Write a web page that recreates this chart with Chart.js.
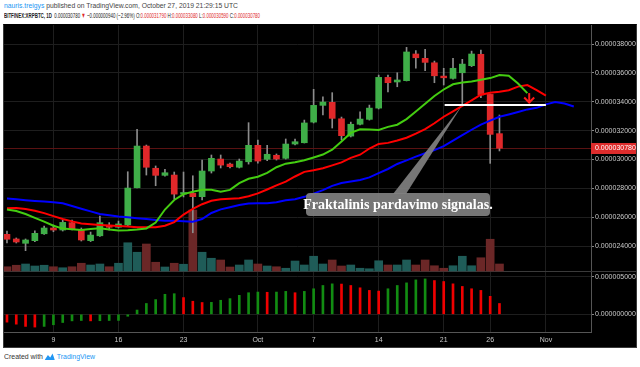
<!DOCTYPE html>
<html>
<head>
<meta charset="utf-8">
<script src="https://cdn.jsdelivr.net/npm/chart.js@4.4.1/dist/chart.umd.min.js"></script>
<style>
  html, body { margin: 0; padding: 0; width: 640px; height: 367px; overflow: hidden; background: #fff;
    font-family: "Liberation Sans", Arial, sans-serif; }
  .line { position: absolute; left: 4px; white-space: nowrap; transform-origin: left center; display: inline-block; }
  #h1 { top: 1px; font-size: 7.5px; color: #444; }
  #h2 { top: 11px; font-size: 7.5px; color: #222; }
  #h2 .r { color: #e0282a; }
  #foot { top: 352px; font-size: 7.5px; color: #333; }
  #foot .tv { color: #2196f3; }
  .blue { color: #2196f3; }
  #wrap { position: absolute; left: 3px; top: 24px; width: 634px; height: 324px; box-sizing: border-box;
    border: 1px solid #3a3a3a; border-top-color: #000; background: #000; }
  canvas { display: block; }
</style>
</head>
<body>
<div id="h1" class="line"><span class="blue">nauris.treigys</span> published on TradingView.com, October 27, 2019 21:29:15 UTC</div>
<div id="h2" class="line"><b>BITFINEX:XRPBTC, 1D</b>&nbsp; 0.000030780 <span class="r">&#9660;</span> &minus;0.000000940 (&minus;2.96%) O:<span class="r">0.000031790</span> H:<span class="r">0.000033080</span> L:<span class="r">0.000030590</span> C:<span class="r">0.000030780</span></div>
<div id="wrap"><canvas id="c" width="632" height="322"></canvas></div>
<div id="foot" class="line">Created with <svg width="11" height="7" viewBox="0 0 11 7" style="vertical-align:-1px"><path d="M0 7 L3.5 2 L6 4.5 L8.5 0.5 L11 7 Z" fill="#2196f3"/></svg> <span class="tv">TradingView</span></div>

<script>
// daily candles, 4 Sep .. 27 Oct 2019, prices in satoshi (1e-8 BTC)
const opens  = [2481,2449,2419,2437,2485,2525,2511,2562,2511,2437,2471,2544,2530,2546,2804,3093,2939,2890,2892,2760,
                2765,2742,2920,3003,2968,2946,2984,3098,3001,3029,3008,3107,3116,3259,3375,3396,3282,3162,3244,3278,
                3356,3569,3537,3546,3731,3701,3670,3578,3562,3601,3650,3729,3451,3179];
const highs  = [2504,2456,2449,2506,2539,2546,2580,2580,2525,2497,2608,2562,2573,2915,3209,3100,2955,2932,2913,2913,
                2887,2996,3031,3031,2975,3003,3255,3135,3098,3038,3142,3142,3273,3486,3435,3463,3294,3259,3331,3377,
                3585,3585,3601,3777,3754,3763,3682,3632,3701,3694,3751,3758,3453,3308];
const lows   = [2421,2421,2368,2431,2480,2499,2504,2511,2435,2431,2466,2511,2525,2539,2802,2892,2818,2885,2726,2740,
                2492,2719,2906,2941,2941,2941,2968,2975,2991,2996,3003,3100,3114,3253,3308,3218,3135,3156,3239,3273,
                3350,3469,3504,3544,3632,3615,3532,3516,3557,3377,3644,3428,2973,3059];
const closes = [2447,2428,2442,2488,2525,2511,2564,2516,2442,2476,2562,2530,2553,2802,3093,2946,2890,2908,2760,2771,
                2742,2920,3008,2961,2950,2989,3098,2989,3036,3003,3107,3123,3253,3375,3398,3285,3165,3244,3280,3356,
                3569,3532,3551,3745,3705,3673,3580,3566,3632,3661,3731,3447,3174,3078];
const volumes = [17,23,28,20,23,17,13,17,31,24,28,17,31,113,75,108,35,16,31,27,
                 244,75,51,44,16,24,44,28,20,17,11,40,24,59,28,44,20,24,11,9,
                 41,24,24,44,24,44,21,11,21,59,21,53,127,28];
// Alligator lines (already shifted forward: jaw +8, teeth +5, lips +3)
const jaw   = [2729,2724,2718,2713,2708,2704,2696,2677,2659,2640,2622,2613,2605,2599,2593,2587,2580,2576,2575,2572,
               2569,2587,2629,2654,2669,2684,2695,2696,2696,2704,2717,2725,2741,2763,2788,2817,2837,2847,2858,2876,
               2905,2934,2969,2994,3020,3043,3065,3093,3131,3169,3206,3242,3269,3296,3312,3329,3347,3358,3382,3398,
               3388,3367];
const teeth = [2662,2663,2657,2645,2628,2607,2587,2571,2557,2551,2546,2542,2539,2535,2531,2530,2530,2541,2566,2618,
               2657,2690,2714,2724,2727,2731,2745,2765,2792,2820,2846,2882,2914,2925,2939,2959,2980,3011,3033,3076,
               3108,3115,3132,3151,3179,3211,3251,3296,3334,3372,3409,3449,3463,3469,3480,3505,3516,3481,3442];
const lips  = [2654,2643,2622,2595,2569,2541,2521,2516,2512,2518,2523,2515,2508,2510,2514,2522,2563,2653,2719,2760,
               2776,2790,2790,2776,2789,2836,2866,2880,2907,2946,2971,2981,2995,3014,3034,3068,3124,3184,3209,3207,
               3205,3226,3241,3280,3332,3386,3440,3485,3521,3534,3541,3552,3564,3585,3581,3526,3460];
// oscillator histogram, satoshi
const osc = [-105,-132,-162,-171,-162,-140,-110,-88,-83,-88,-86,-83,-82,-26,57,145,197,268,276,224,
             175,158,160,188,210,254,289,298,295,298,307,289,307,342,386,408,405,386,355,320,
             311,342,386,421,461,474,452,439,408,373,342,320,241,145];

const fractalLevel = 3377;
const fractalFrom = 47.1, fractalTo = 58;
const arrowAt = 56.2, arrowTop = 3460, arrowTip = 3395;

const priceTicks = [2400, 2600, 2800, 3000, 3200, 3400, 3600, 3800];
const oscTicks = [0, 500];
const dateTicks = [5, 12, 19, 27, 33, 40, 47, 52, 58];
const dateLabels = ['9', '16', '23', 'Oct', '7', '14', '21', '26', 'Nov'];
const calloutText = 'Fraktalinis pardavimo signalas.';

const UP = '#3fae48', DOWN = '#e0282a';
const up = closes.map((c, i) => c >= opens[i]);
const fmt = v => (v / 1e8).toFixed(9);
const pts = arr => arr.map((v, i) => ({ x: i, y: v }));

const marks = {
  id: 'marks',
  beforeDatasetsDraw(chart) {
    const { ctx, chartArea: a, scales } = chart;
    const py = Math.round(scales.y.getPixelForValue(closes[closes.length - 1])) + 0.5;
    const dy = Math.round(scales.yOsc.top) + 0.5;
    ctx.save();
    ctx.lineWidth = 1;
    ctx.strokeStyle = '#5a1212';
    ctx.beginPath(); ctx.moveTo(a.left, py); ctx.lineTo(a.right, py); ctx.stroke();
    ctx.strokeStyle = '#3a3a3a';
    ctx.beginPath(); ctx.moveTo(a.left, dy); ctx.lineTo(chart.width, dy); ctx.stroke();
    ctx.restore();
  },
  afterDatasetsDraw(chart) {
    const { ctx, scales: { x, y } } = chart;
    ctx.save();
    // red arrow
    const ax = x.getPixelForValue(arrowAt), a0 = y.getPixelForValue(arrowTop), a1 = y.getPixelForValue(arrowTip);
    ctx.strokeStyle = '#ff1a1a'; ctx.lineWidth = 2;
    ctx.beginPath(); ctx.moveTo(ax, a0); ctx.lineTo(ax, a1); ctx.stroke();
    ctx.beginPath(); ctx.moveTo(ax - 5, a1 - 5); ctx.lineTo(ax, a1); ctx.lineTo(ax + 5, a1 - 5); ctx.stroke();
    // callout
    const tipX = x.getPixelForValue(49), tipY = y.getPixelForValue(fractalLevel);
    const bx = 302, by = 168, bw = 184, bh = 23;
    ctx.fillStyle = 'rgba(128,128,128,0.92)';
    ctx.beginPath(); ctx.moveTo(bx + 87, by + 1); ctx.lineTo(tipX, tipY); ctx.lineTo(bx + 100, by + 1); ctx.closePath(); ctx.fill();
    ctx.beginPath(); ctx.roundRect(bx, by, bw, bh, 4); ctx.fill();
    ctx.fillStyle = '#fff';
    ctx.font = 'bold 14px "Liberation Serif", "DejaVu Serif", serif';
    ctx.textAlign = 'center'; ctx.textBaseline = 'middle';
    ctx.fillText(calloutText, bx + bw / 2, by + bh / 2 + 1);
    ctx.restore();
  },
  afterDraw(chart) {
    const { ctx, scales: { y } } = chart;
    const py = Math.round(y.getPixelForValue(closes[closes.length - 1]));
    ctx.save();
    ctx.fillStyle = '#dd2c2c';
    ctx.fillRect(y.left, py - 5, chart.width - y.left, 11);
    ctx.fillStyle = '#fff';
    ctx.font = '7px "Liberation Sans", Arial, sans-serif';
    ctx.textBaseline = 'middle';
    ctx.fillText(fmt(closes[closes.length - 1]), y.left + 4, py + 0.5);
    ctx.restore();
  }
};

const gridColor = '#1e1e1e';
const axisTicks = { color: '#c8c8c8', font: { size: 7, family: '"Liberation Sans", Arial, sans-serif' } };
const noPad = s => { s.paddingTop = 0; s.paddingBottom = 0; s.paddingLeft = 0; s.paddingRight = 0; };

new Chart(document.getElementById('c').getContext('2d'), {
  type: 'line',
  data: {
    datasets: [
      { type: 'bar', yAxisID: 'yVol', order: 10, grouped: false, barThickness: 8,
        data: pts(volumes), backgroundColor: up.map(u => u ? '#1f5c58' : '#6b2727') },
      { type: 'bar', yAxisID: 'y', order: 9, grouped: false, barThickness: 1,
        data: lows.map((l, i) => ({ x: i, y: [l, highs[i]] })), backgroundColor: '#8c8c8c' },
      { type: 'bar', yAxisID: 'y', order: 8, grouped: false, barThickness: 6, minBarLength: 1,
        data: opens.map((o, i) => ({ x: i, y: [o, closes[i]] })), backgroundColor: up.map(u => u ? UP : DOWN) },
      { type: 'line', yAxisID: 'y', order: 5, data: pts(jaw), borderColor: '#0000ff', borderWidth: 2, pointRadius: 0 },
      { type: 'line', yAxisID: 'y', order: 4, data: pts(teeth), borderColor: '#ff0000', borderWidth: 2, pointRadius: 0 },
      { type: 'line', yAxisID: 'y', order: 3, data: pts(lips), borderColor: '#44cc11', borderWidth: 2, pointRadius: 0 },
      { type: 'line', yAxisID: 'y', order: 2, data: [{ x: fractalFrom, y: fractalLevel }, { x: fractalTo, y: fractalLevel }],
        borderColor: '#ffffff', borderWidth: 2, pointRadius: 0 },
      { type: 'bar', yAxisID: 'yOsc', order: 1, grouped: false, barThickness: 2,
        data: pts(osc), backgroundColor: osc.map((v, i) => i > 0 && v > osc[i - 1] ? '#128c12' : '#f00000') }
    ]
  },
  options: {
    responsive: false, animation: false,
    layout: { padding: 0 },
    plugins: { legend: { display: false }, tooltip: { enabled: false } },
    scales: {
      x: {
        type: 'linear', min: -0.32, max: 62.85, offset: false,
        afterFit: s => { s.height = 15; noPad(s); },
        afterBuildTicks: s => { s.ticks = dateTicks.map(v => ({ value: v })); },
        ticks: { ...axisTicks, autoSkip: false, maxRotation: 0, padding: 4,
          callback: v => dateLabels[dateTicks.indexOf(v)] },
        grid: { color: gridColor, offset: false, drawTicks: false },
        border: { color: '#555' }
      },
      y: {
        type: 'linear', position: 'right', stack: 'panes', stackWeight: 246, min: 2227, max: 3932,
        afterFit: s => { s.width = 45; noPad(s); },
        afterBuildTicks: s => { s.ticks = priceTicks.map(v => ({ value: v })); },
        ticks: { ...axisTicks, padding: 1, callback: v => fmt(v) },
        grid: { color: gridColor, tickLength: 3, tickColor: '#888' },
        border: { color: '#555' }
      },
      yOsc: {
        type: 'linear', position: 'right', stack: 'panes', stackWeight: 61, min: -237, max: 580,
        afterFit: s => { s.width = 45; noPad(s); },
        afterBuildTicks: s => { s.ticks = oscTicks.map(v => ({ value: v })); },
        ticks: { ...axisTicks, padding: 1, callback: v => fmt(v) },
        grid: { color: gridColor, tickLength: 3, tickColor: '#888' },
        border: { color: '#555' }
      },
      yVol: { type: 'linear', position: 'left', display: false, min: -244, max: 984 }
    }
  },
  plugins: [marks]
});

function fit(id, w) {
  const el = document.getElementById(id);
  el.style.transform = 'scaleX(' + (w / el.getBoundingClientRect().width) + ')';
}
fit('h1', 234); fit('h2', 256); fit('foot', 91);
</script>
</body>
</html>
